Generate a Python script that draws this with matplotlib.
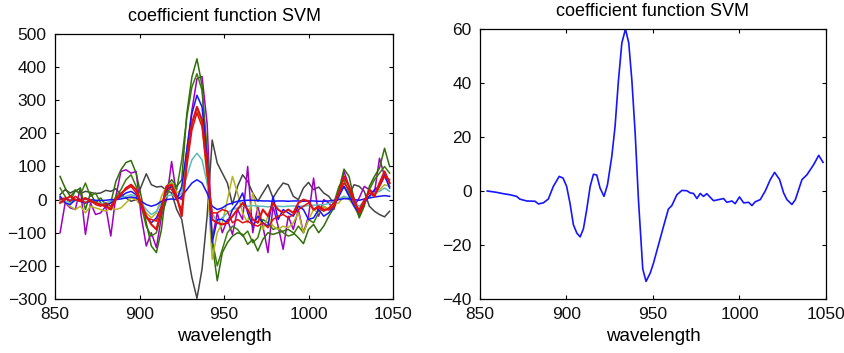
import numpy as np
import matplotlib
matplotlib.use("Agg")
import matplotlib.pyplot as plt

plt.rcParams['font.family'] = ['Liberation Sans', 'DejaVu Sans']

# common wavelength grid of the individual coefficient functions (left panel)
wl = np.arange(853, 1049, 3)

coef_gray = [15, 30, 20, 28, 18, 25, 22, 18, 20, 28, 25, 33, 15, 5, -5, 0, 40, 78, 45, 38,
             40, 28, 20, -30, -60, -150, -235, -298, -210, -50, 180, 110, 80, 50, -15, 40, 75, 55, 20, -5,
             20, 45, 5, 30, 50, 45, 10, 0, 35, 52, 30, 38, 20, 10, -12, 20, 40, 15, 45, 40,
             25, -20, -35, -45, -52, -35]
coef_green1 = [70, 35, 10, 25, 35, -30, 20, -10, 5, -15, -10, 55, 90, 112, 118, 80, 10, -70, -140, -160,
               -90, 40, 60, 40, 60, 260, 370, 425, 345, 110, -130, -245, -160, -130, -110, -100, -105, -135, -120, -155,
               -120, -100, -105, -100, -95, -90, -100, -115, -133, -90, -75, -100, -80, -50, -25, 30, 92, 70, 0, -55,
               -20, 40, 70, 95, 155, 100]
coef_green2 = [35, 10, -10, 30, 15, 50, 10, 20, -10, -20, -25, 10, 30, 60, 75, 40, -20, -80, -110, -100,
               -40, 10, 50, 30, 120, 250, 340, 380, 330, 150, -120, -200, -150, -100, -80, -90, -110, -95, -130, -115,
               -60, -70, -90, -85, -100, -110, -105, -80, -100, -60, -70, -40, -20, -30, -10, 40, 60, 20, -20, -50,
               -10, 30, 60, 80, 100, 80]
coef_purple = [-100, -10, -25, -30, 35, -105, -10, -45, -40, -20, -110, 10, 85, 90, 80, 85, -50, -140, -100, -145,
               -50, 0, 115, 10, 0, 150, 270, 365, 372, 230, -120, -40, -100, -60, -105, -30, -60, 100, -100, -20,
               -80, -160, -20, -80, -150, -50, -90, -30, -100, -50, 65, -50, 0, -10, -30, 20, 85, 40, -20, 5,
               40, 30, 20, 125, 70, 40]
coef_yellow = [-5, -10, -20, -30, -20, -40, -20, -25, -30, -35, -25, -30, -25, -10, 5, 0, -20, -40, -55, -40,
               10, 40, 50, 20, 30, 130, 230, 270, 230, 60, -180, -100, -70, 0, 70, 20, -40, -70, 20, -40,
               -90, -50, -80, -90, -80, -85, -70, -40, -100, -60, -30, -40, -20, -30, -15, -10, 10, 0, -20, -30,
               -10, 10, 20, 30, 45, 40]
coef_cyan = [0, -5, -8, -3, -5, -5, -8, -10, -12, -10, -5, 0, 5, 10, 15, 10, -10, -30, -45, -35,
             -10, 10, 15, 5, 20, 70, 120, 140, 120, 50, -40, -70, -55, -40, -30, -25, -20, -20, -18, -20,
             -20, -22, -20, -20, -21, -20, -19, -20, -20, -18, -17, -16, -15, -12, -5, 3, 10, 5, -10, -20,
             -5, 10, 20, 25, 35, 25]
coef_blue_s = [5, 2, -2, 0, 0, 2, 0, -2, -3, -2, 0, 0, 2, 5, 8, 5, -5, -15, -20, -15,
               -5, 0, 2, 0, 10, 30, 50, 60, 50, 20, -20, -30, -25, -15, -10, -5, -3, -2, -2, -3,
               -4, -4, -5, -4, -4, -5, -4, -4, -5, -4, -4, -5, -5, -4, -2, 0, 3, 2, 0, -2,
               2, 5, 8, 10, 12, 10]
coef_blue = [10, -10, -15, 0, -5, -10, -5, -10, -15, -20, -10, 0, 10, 20, 25, 15, -20, -50, -70, -55,
             -20, 30, 40, 0, 40, 150, 260, 315, 280, 120, -130, -60, -60, -70, -30, -10, 20, -40, -80, -50,
             -70, -80, 10, -60, -30, -40, -50, -20, -30, -60, -55, -30, -50, -40, -20, 10, 40, 10, -20, -40,
             -10, 10, 30, 40, 75, 35]
coef_red2 = [0, 5, -5, 10, 0, -10, 0, -15, -20, -10, -20, 5, 20, 30, 40, 20, -20, -55, -60, -65,
             -20, 40, 30, 0, -30, 100, 210, 262, 220, 80, -40, -40, -30, -35, -70, -60, -70, -65, -75, -80,
             -70, -85, -60, -50, -45, -55, -45, -30, -20, -10, -30, -25, -35, -25, -10, 20, 50, 30, -10, -30,
             0, 20, 10, 40, 70, 60]
coef_red1 = [-10, 0, 10, 0, -5, 5, -5, -10, -15, -20, -30, 0, 15, 35, 45, 30, -10, -50, -75, -90,
             -30, 40, 45, 10, -50, 120, 230, 280, 240, 100, -60, -70, -75, -70, -50, -30, -10, -30, -60, -70,
             -30, -50, -10, -30, -40, -30, -40, -10, 0, -5, -30, -20, -30, -30, -20, 20, 70, 40, 0, -40,
             -10, 30, 10, 50, 85, 50]

# averaged coefficient function (right panel)
wl_mean = [854.2, 859.6, 863.5, 867.4, 871.2, 873.0, 877.0, 881.8, 883.8, 886.6, 889.5, 892.4, 895.8,
           898.0, 900.1, 902.0, 904.0, 906.0, 907.9, 909.8, 911.7, 913.7, 915.6, 917.5, 919.4, 921.7,
           923.7, 926.2, 928.1, 930.0, 932.0, 934.1, 936.0, 937.8, 939.7, 941.6, 944.1, 946.0, 948.4,
           950.3, 953.2, 956.1, 958.9, 960.9, 963.8, 966.7, 969.6, 971.5, 973.4, 975.4, 977.3, 979.2,
           981.1, 985.0, 987.9, 990.8, 992.7, 995.6, 997.5, 1000.0, 1002.4, 1005.3, 1007.2, 1009.1,
           1012.0, 1014.9, 1017.8, 1020.3, 1023.2, 1025.5, 1027.4, 1030.3, 1032.3, 1036.1, 1039.0,
           1042.9, 1045.8, 1048.3]
coef_mean = [0.0, -0.5, -1.0, -1.4, -2.0, -3.0, -3.7, -3.8, -4.8, -4.4, -3.0, 1.7, 5.4,
             4.8, 1.7, -4.4, -12.5, -15.6, -17.0, -14.0, -6.9, 1.7, 6.2, 5.9, 1.1, -2.0,
             2.3, 12.8, 24.0, 40.6, 54.8, 60.0, 54.8, 41.0, 21.5, -3.2, -28.9, -33.5, -30.4,
             -26.7, -19.9, -13.1, -6.7, -5.4, -1.4, 0.2, 0.1, -0.7, -0.9, -2.8, -0.9, -2.0,
             -1.0, -3.6, -3.2, -2.8, -4.2, -3.7, -4.7, -2.2, -4.4, -4.2, -5.4, -4.0,
             -3.2, 0.0, 4.2, 6.9, 4.2, -0.7, -3.2, -5.0, -3.2, 4.2, 6.0,
             9.8, 13.2, 10.6]

series = [
    (coef_gray, '#444444', 1.1),
    (coef_purple, '#a000c0', 1.1),
    (coef_green2, '#3d7a0e', 1.1),
    (coef_green1, '#2f6e08', 1.1),
    (coef_yellow, '#b5b51f', 1.1),
    (coef_cyan, '#5cbcbc', 1.1),
    (coef_blue_s, '#1515ff', 1.1),
    (coef_blue, '#1515ff', 1.1),
    (coef_red2, '#dd1111', 1.1),
    (coef_red1, '#e01010', 1.5),
]

fig = plt.figure(figsize=(8.45, 3.53), dpi=100)
ax1 = fig.add_axes([0.0651, 0.1530, 0.4, 0.7507])
ax2 = fig.add_axes([0.568, 0.1530, 0.4095, 0.7649])

for vals, col, lw in series:
    ax1.plot(wl, vals, color=col, lw=lw)

ax2.plot(wl_mean, coef_mean, color='#1515ff', lw=1.2)

for ax in (ax1, ax2):
    ax.set_xlim(850, 1050)
    ax.set_xticks([850, 900, 950, 1000, 1050])
    ax.tick_params(direction='in', top=True, right=True, labelsize=12.5, length=3, pad=6,
                   labelcolor='#111111')
    ax.set_xlabel('wavelength', fontsize=13.5, labelpad=4)
    ax.set_title('coefficient function SVM', fontsize=13, pad=9)
    for s in ax.spines.values():
        s.set_linewidth(0.9)

ax1.set_ylim(-300, 500)
ax1.set_yticks(range(-300, 501, 100))
ax2.set_ylim(-40, 60)
ax2.set_yticks(range(-40, 61, 20))

fig.savefig('out.png', dpi=100)
